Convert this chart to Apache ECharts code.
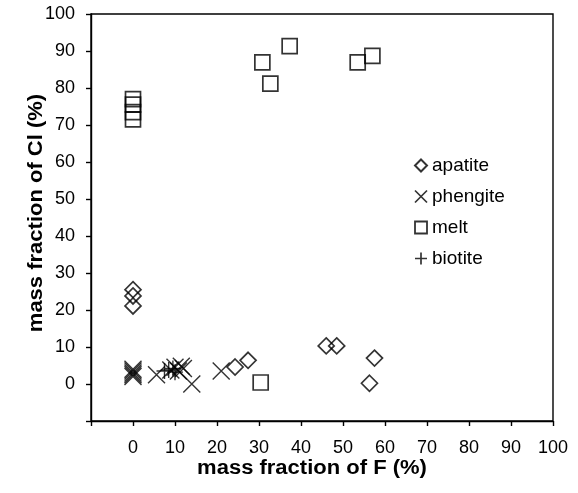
<!DOCTYPE html>
<html>
<head>
<meta charset="utf-8">
<script src="https://cdn.jsdelivr.net/npm/echarts@6/dist/echarts.min.js"></script>
<style>
html,body{margin:0;padding:0;background:#fff;}
#chart{width:578px;height:493px;}
</style>
</head>
<body>
<div id="chart"></div>
<script>
// Data (F %, Cl %)
var apatiteF  = [0, 0, 0, 24.3, 27.4, 46.0, 48.5, 57.5, 56.3];
var apatiteCl = [25.5, 23.8, 21.1, 4.6, 6.4, 10.3, 10.3, 7.0, 0.2];

var phengiteF  = [0, 0, 0, 0, 0, 5.6, 9.0, 10.0, 10.8, 11.5, 12.0, 14.0, 21.0];
var phengiteCl = [2.0, 2.5, 3.0, 3.5, 4.0, 2.5, 3.8, 4.5, 3.5, 4.8, 4.2, 0.0, 3.5];

var meltF  = [0, 0, 0, 0, 30.8, 32.7, 37.3, 53.5, 57.0, 30.4];
var meltCl = [77.0, 75.5, 73.5, 71.5, 86.9, 81.2, 91.3, 86.9, 88.7, 0.4];

var biotiteF  = [7.5, 8.5, 9.5, 10.0];
var biotiteCl = [3.5, 3.8, 4.2, 3.2];

var seriesNames = ['apatite', 'phengite', 'melt', 'biotite'];
var xTitle = 'mass fraction of F (%)';
var yTitle = 'mass fraction of Cl (%)';

function pairs(xs, ys) { return xs.map(function (x, i) { return [x, ys[i]]; }); }

var X_PATH = 'path://M0,0L10,10M10,0L0,10';
var PLUS_PATH = 'path://M5,0L5,10M0,5L10,5';

var chart = echarts.init(document.getElementById('chart'), null, {renderer: 'canvas'});
var font = '"Liberation Sans", Arial, sans-serif';

var axisCommon = {
  type: 'value', min: -10, max: 100, interval: 10,
  axisLine: {show: true, onZero: false, lineStyle: {color: '#000', width: 1.4}},
  axisTick: {show: true, inside: false, length: 5, lineStyle: {color: '#000', width: 1.4}},
  splitLine: {show: false},
  axisLabel: {
    color: '#000', fontFamily: font, fontSize: 18, showMinLabel: true, showMaxLabel: true,
    formatter: function (v) { return v < 0 ? '' : String(v); }
  }
};

var option = {
  animation: false,
  backgroundColor: '#fff',
  grid: {left: 91, right: 25, top: 14, bottom: 72, show: true, borderColor: '#000', borderWidth: 1.4},
  xAxis: Object.assign({}, axisCommon, {axisLabel: Object.assign({}, axisCommon.axisLabel, {margin: 18})}),
  yAxis: Object.assign({}, axisCommon, {axisLabel: Object.assign({}, axisCommon.axisLabel, {margin: 16})}),
  legend: {
    orient: 'vertical', left: 409, top: 151, itemWidth: 12, itemHeight: 12, itemGap: 12,
    textStyle: {color: '#000', fontFamily: font, fontSize: 19},
    data: [
      {name: seriesNames[0], icon: 'diamond', itemStyle: {color: 'rgba(0,0,0,0)', borderColor: '#000', borderWidth: 2}},
      {name: seriesNames[1], icon: X_PATH, itemStyle: {color: 'rgba(0,0,0,0)', borderColor: '#000', borderWidth: 1.7}},
      {name: seriesNames[2], icon: 'rect', itemStyle: {color: 'rgba(0,0,0,0)', borderColor: '#000', borderWidth: 1.8}},
      {name: seriesNames[3], icon: PLUS_PATH, itemStyle: {color: 'rgba(0,0,0,0)', borderColor: '#000', borderWidth: 1.7}}
    ]
  },
  graphic: [
    {type: 'text', x: 312, y: 468, scaleX: 1.1, style: {text: xTitle, fontFamily: font, fontWeight: 'bold', fontSize: 20, fill: '#000', align: 'center', verticalAlign: 'middle'}},
    {type: 'text', x: 36, y: 213, scaleX: 1.1, rotation: Math.PI / 2, style: {text: yTitle, fontFamily: font, fontWeight: 'bold', fontSize: 20, fill: '#000', align: 'center', verticalAlign: 'middle'}}
  ],
  series: [
    {name: seriesNames[0], type: 'scatter', symbol: 'diamond', symbolSize: 16, data: pairs(apatiteF, apatiteCl),
     itemStyle: {color: 'rgba(0,0,0,0)', borderColor: '#000', borderWidth: 1.7}},
    {name: seriesNames[1], type: 'scatter', symbol: X_PATH, symbolSize: 17, data: pairs(phengiteF, phengiteCl),
     itemStyle: {color: 'rgba(0,0,0,0)', borderColor: '#000', borderWidth: 1.4}},
    {name: seriesNames[2], type: 'scatter', symbol: 'rect', symbolSize: 15, data: pairs(meltF, meltCl),
     itemStyle: {color: 'rgba(0,0,0,0)', borderColor: '#000', borderWidth: 1.7}},
    {name: seriesNames[3], type: 'scatter', symbol: PLUS_PATH, symbolSize: 16, data: pairs(biotiteF, biotiteCl),
     itemStyle: {color: 'rgba(0,0,0,0)', borderColor: '#000', borderWidth: 1.4}}
  ]
};
chart.setOption(option);
</script>
</body>
</html>
